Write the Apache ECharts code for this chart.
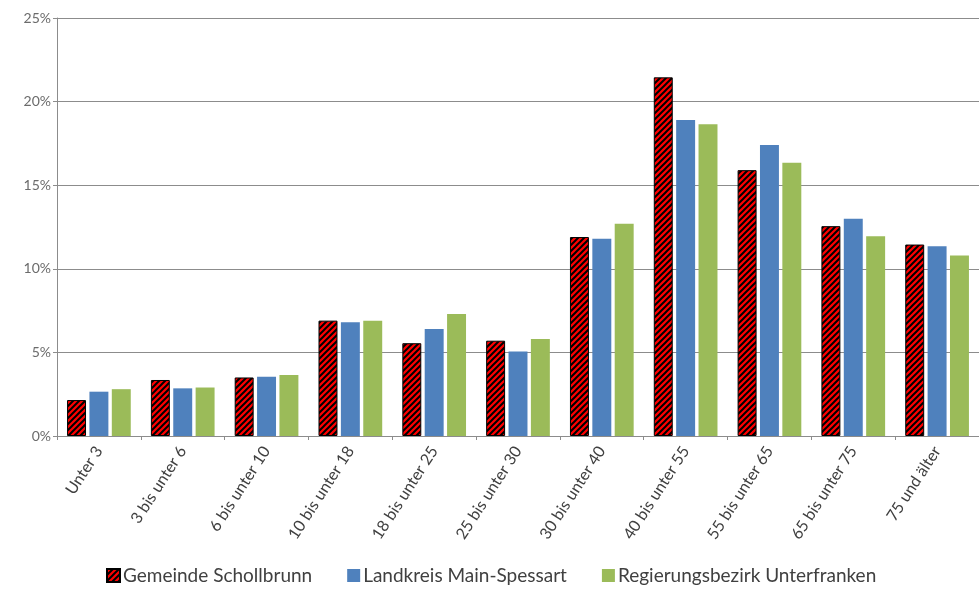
<!DOCTYPE html>
<html>
<head>
<meta charset="utf-8">
<script src="https://cdn.jsdelivr.net/npm/echarts@6/dist/echarts.min.js"></script>
<style>
  html, body { margin: 0; padding: 0; background: #fff; }
  #chart { width: 979px; height: 590px; }
</style>
</head>
<body>
<div id="chart"></div>
<script>
// Altersgruppen
var categories = ['Unter 3', '3 bis unter 6', '6 bis unter 10', '10 bis unter 18', '18 bis unter 25',
  '25 bis unter 30', '30 bis unter 40', '40 bis unter 55', '55 bis unter 65', '65 bis unter 75', '75 und älter'];
var seriesNames = ['Gemeinde Schollbrunn', 'Landkreis Main-Spessart', 'Regierungsbezirk Unterfranken'];
// Anteile in Prozent
var schollbrunn = [2.15, 3.35, 3.5, 6.9, 5.55, 5.7, 11.9, 21.45, 15.9, 12.55, 11.45];
var mainSpessart = [2.65, 2.85, 3.55, 6.8, 6.4, 5.05, 11.8, 18.9, 17.4, 13.0, 11.35];
var unterfranken = [2.8, 2.9, 3.65, 6.9, 7.3, 5.8, 12.7, 18.65, 16.35, 11.95, 10.8];
var yTicks = [0, 5, 10, 15, 20, 25];

(function(){
    // rot mit schwarzen Schraegstreifen
    var c = document.createElement('canvas');
    c.width = 6; c.height = 6;
    var ctx = c.getContext('2d');
    ctx.fillStyle = '#ff0000';
    ctx.fillRect(0, 0, 6, 6);
    ctx.strokeStyle = '#000';
    ctx.lineWidth = 2;
    ctx.beginPath();
    ctx.moveTo(-1, 7); ctx.lineTo(7, -1);
    ctx.moveTo(-4, 4); ctx.lineTo(4, -4);
    ctx.moveTo(2, 10); ctx.lineTo(10, 2);
    ctx.stroke();
    var hatch = { image: c, repeat: 'repeat' };

    var myChart = echarts.init(document.getElementById('chart'));
    var font = 'Lato, "Open Sans", sans-serif';
    var option = {
        animation: false,
        grid: { left: 57, right: -8, top: 18, bottom: 154 },
        legend: {
            bottom: 0,
            left: 101,
            itemWidth: 13,
            itemHeight: 13,
            itemGap: 35,
            icon: 'rect',
            textStyle: { fontFamily: font, fontSize: 19, color: '#404040', padding: [0, 0, 0, -2] },
            data: seriesNames
        },
        xAxis: {
            type: 'category',
            data: categories,
            axisLine: { lineStyle: { color: '#8c8c8c' } },
            axisTick: { show: true, length: 4, lineStyle: { color: '#8c8c8c' } },
            axisLabel: { rotate: 57, fontFamily: font, fontSize: 16, color: '#404040', margin: 12 }
        },
        yAxis: {
            type: 'value',
            min: 0, max: 25, interval: 5,
            axisLine: { show: true, lineStyle: { color: '#8c8c8c' } },
            axisTick: { show: true, length: 4, lineStyle: { color: '#8c8c8c' } },
            splitLine: { lineStyle: { color: '#8c8c8c' } },
            axisLabel: {
                fontFamily: font, fontSize: 14, color: '#6b6b6b', margin: 6,
                formatter: function(v) { return yTicks.indexOf(v) >= 0 ? v + '%' : ''; }
            }
        },
        series: [
            {
                name: seriesNames[0], type: 'bar', data: schollbrunn,
                barGap: '18%', barCategoryGap: '24%',
                itemStyle: { color: hatch, borderColor: '#000', borderWidth: 1 }
            },
            {
                name: seriesNames[1], type: 'bar', data: mainSpessart,
                itemStyle: { color: '#4f81bd' }
            },
            {
                name: seriesNames[2], type: 'bar', data: unterfranken,
                itemStyle: { color: '#9bbb59' }
            }
        ]
    };
    myChart.setOption(option);
    window.addEventListener('resize', function() {
        myChart.resize();
    });
})();
</script>
</body>
</html>
